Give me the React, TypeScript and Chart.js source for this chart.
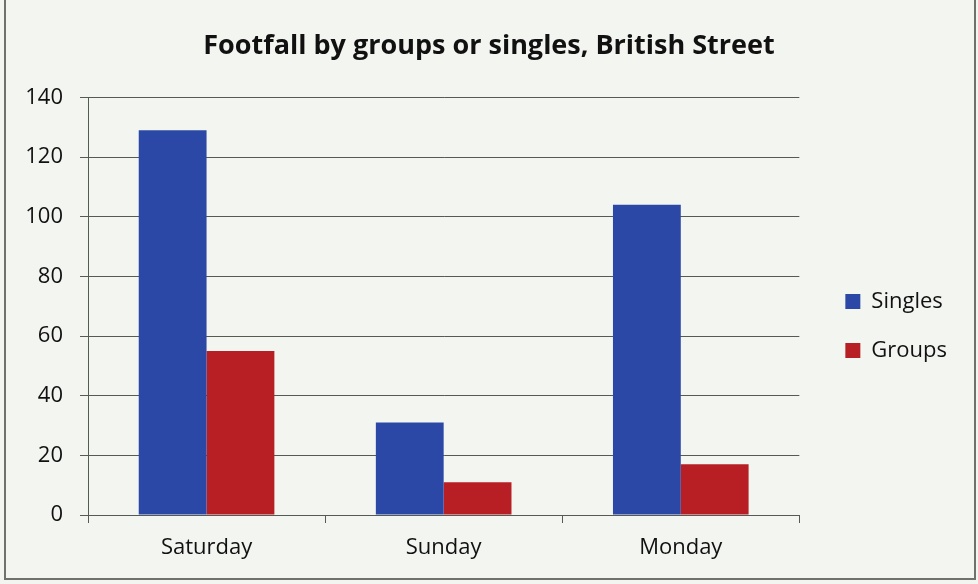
import React, { useEffect, useRef } from "react";
import { Chart, registerables } from "chart.js";

Chart.register(...registerables);

const categories = ["Saturday", "Sunday", "Monday"];
const singles = [129, 31, 104];
const groups = [55, 11, 17];
const seriesNames = ["Singles", "Groups"];
const yTicks = { min: 0, max: 140, step: 20 };

const FONT = "'Open Sans', sans-serif";

const legendShift = {
  id: "legendShift",
  beforeLayout(chart: any) {
    const lg = chart.legend;
    if (!lg || lg._wrappedFit) return;
    const orig = lg.fit.bind(lg);
    lg.fit = function () {
      orig();
      lg.width += 40;
    };
    lg._wrappedFit = true;
  },
  afterLayout(chart: any) {
    const lg = chart.legend;
    if (!lg) return;
    const dx = 19;
    const dy = 34;
    lg.left += dx;
    lg.top += dy;
    lg.bottom += dy;
  },
};

export default function App() {
  const ref = useRef<HTMLCanvasElement | null>(null);

  useEffect(() => {
    if (!ref.current) return;
    const chart = new Chart(ref.current, {
      type: "bar",
      data: {
        labels: categories,
        datasets: [
          {
            label: seriesNames[0],
            data: singles,
            backgroundColor: "#2c48a6",
            categoryPercentage: 0.572,
            barPercentage: 1,
          },
          {
            label: seriesNames[1],
            data: groups,
            backgroundColor: "#b71f24",
            categoryPercentage: 0.572,
            barPercentage: 1,
          },
        ],
      },
      plugins: [legendShift],
      options: {
        animation: false,
        responsive: false,
        maintainAspectRatio: false,
        layout: { padding: { left: 0, right: 0, top: 0, bottom: 0 } },
        plugins: {
          title: {
            display: true,
            text: "Footfall by groups or singles, British Street",
            color: "#111",
            font: { family: FONT, size: 27, weight: "bold" },
            padding: { top: 30, bottom: 35 },
          },
          legend: {
            position: "right",
            labels: {
              color: "#111",
              font: { family: FONT, size: 22 },
              boxWidth: 15,
              boxHeight: 15,
              padding: 27,
            },
          },
          tooltip: { enabled: false },
        },
        scales: {
          x: {
            grid: {
              display: true,
              offset: true,
              drawOnChartArea: false,
              drawTicks: true,
              tickLength: 8,
              color: "#555a52",
            },
            border: { display: true, color: "#555a52" },
            ticks: {
              color: "#111",
              font: { family: FONT, size: 22 },
              padding: 12,
            },
            afterFit: (s: any) => {
              s.height = 69;
            },
          },
          y: {
            min: yTicks.min,
            max: yTicks.max,
            ticks: {
              stepSize: yTicks.step,
              color: "#111",
              font: { family: FONT, size: 22 },
              padding: 17,
            },
            grid: {
              color: "#555a52",
              tickLength: 8,
            },
            border: { display: true, color: "#555a52" },
            afterFit: (s: any) => {
              s.width = 88;
            },
          },
        },
      },
    });
    return () => chart.destroy();
  }, []);

  return (
    <div
      style={{
        position: "fixed",
        left: 0,
        top: 0,
        width: 978,
        height: 584,
        background: "#f3f5f1",
        overflow: "hidden",
      }}
    >
      <div
        style={{
          position: "absolute",
          left: 4,
          top: -4,
          width: 968,
          height: 582,
          borderLeft: "2px solid #6f726c",
          borderRight: "2px solid #6f726c",
          borderBottom: "2px solid #6f726c",
        }}
      />
      <canvas
        ref={ref}
        width={978}
        height={584}
        style={{ position: "absolute", left: 0, top: 0 }}
      />
    </div>
  );
}
